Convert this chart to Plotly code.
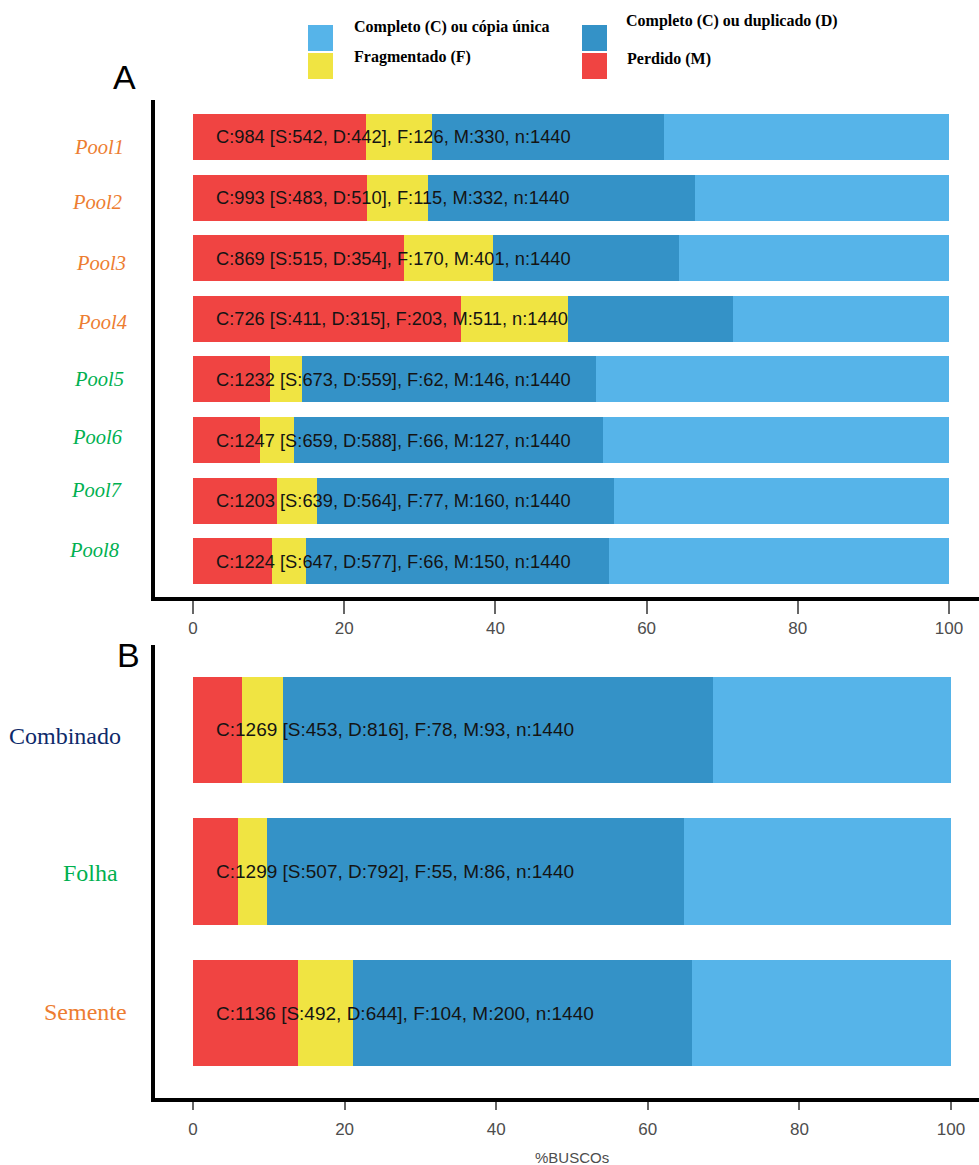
import plotly.graph_objects as go

W, H = 979, 1165

# BUSCO results (n = 1440 genes per assembly)
pools = ["Pool1", "Pool2", "Pool3", "Pool4", "Pool5", "Pool6", "Pool7", "Pool8"]
pool_single = [542, 483, 515, 411, 673, 659, 639, 647]
pool_duplicated = [442, 510, 354, 315, 559, 588, 564, 577]
pool_fragmented = [126, 115, 170, 203, 62, 66, 77, 66]
pool_missing = [330, 332, 401, 511, 146, 127, 160, 150]

tissues = ["Combinado", "Folha", "Semente"]
tissue_single = [453, 507, 492]
tissue_duplicated = [816, 792, 644]
tissue_fragmented = [78, 55, 104]
tissue_missing = [93, 86, 200]

n_total = 1440
x_ticks = [0, 20, 40, 60, 80, 100]

# category legend labels
lbl_single = "Completo (C) ou cópia única"
lbl_duplicated = "Completo (C) ou duplicado (D)"
lbl_fragmented = "Fragmentado (F)"
lbl_missing = "Perdido (M)"

C_SINGLE = "#56B4E9"
C_DUP = "#3492C7"
C_FRAG = "#F0E442"
C_MISS = "#F04442"
ORANGE = "#ED7D31"
GREEN = "#00B050"
NAVY = "#0E2A6A"


def px(x):
    return x / W


def py(y):
    return 1 - y / H


def pct(vals):
    return [v / n_total * 100 for v in vals]


def busco_text(s, d, f, m):
    return f"C:{s + d} [S:{s}, D:{d}], F:{f}, M:{m}, n:{n_total}"


fig = go.Figure()


def add_panel(cats, single, dup, frag, miss, xa, ya, width):
    for vals, color, name in [
        (miss, C_MISS, lbl_missing),
        (frag, C_FRAG, lbl_fragmented),
        (dup, C_DUP, lbl_duplicated),
        (single, C_SINGLE, lbl_single),
    ]:
        fig.add_trace(go.Bar(
            y=cats, x=pct(vals), orientation="h", name=name,
            marker=dict(color=color, line=dict(width=0)),
            width=width, xaxis=xa, yaxis=ya, showlegend=False,
        ))


add_panel(pools, pool_single, pool_duplicated, pool_fragmented, pool_missing, "x", "y", 0.76)
add_panel(tissues, tissue_single, tissue_duplicated, tissue_fragmented, tissue_missing, "x2", "y2", 0.75)


def x_range(px0, px100):
    scale = (px100 - px0) / 100
    return [(155 - px0) / scale, (W - px0) / scale]


axis_common = dict(
    showline=True, linewidth=3.5, linecolor="black", showgrid=False, zeroline=False,
)
tick_font = dict(family="Liberation Sans, Arial", size=17, color="#4D4D4D")

fig.update_layout(
    width=W, height=H,
    margin=dict(l=0, r=0, t=0, b=0),
    paper_bgcolor="white", plot_bgcolor="white",
    barmode="stack", bargap=0,
    xaxis=dict(
        domain=[px(155), 1], range=x_range(193, 949), anchor="y",
        tickvals=x_ticks, ticks="outside", ticklen=13, tickwidth=1.5, tickcolor="#666",
        tickfont=tick_font, **axis_common,
    ),
    yaxis=dict(
        domain=[py(597), py(100)], type="category", categoryarray=pools,
        range=[7.59, -0.61], showticklabels=False, ticks="", anchor="x",
        **axis_common,
    ),
    xaxis2=dict(
        domain=[px(155), 1], range=x_range(193, 951), anchor="y2",
        tickvals=x_ticks, ticks="outside", ticklen=8, tickwidth=1.5, tickcolor="#666",
        ticklabelstandoff=5, tickfont=tick_font, **axis_common,
    ),
    yaxis2=dict(
        domain=[py(1098), py(645)], type="category", categoryarray=tissues,
        range=[2.6, -0.6], showticklabels=False, ticks="", anchor="x2",
        **axis_common,
    ),
)

annotations = []

# value labels inside the bars
for i, cat in enumerate(pools):
    annotations.append(dict(
        x=2.8, y=cat, xref="x", yref="y", xanchor="left", yanchor="middle",
        text=busco_text(pool_single[i], pool_duplicated[i], pool_fragmented[i], pool_missing[i]),
        showarrow=False, font=dict(family="Liberation Sans, Arial", size=18.3, color="#141414"),
    ))
for i, cat in enumerate(tissues):
    annotations.append(dict(
        x=2.8, y=cat, xref="x2", yref="y2", xanchor="left", yanchor="middle",
        text=busco_text(tissue_single[i], tissue_duplicated[i], tissue_fragmented[i], tissue_missing[i]),
        showarrow=False, font=dict(family="Liberation Sans, Arial", size=19, color="#141414"),
    ))

# row labels
pool_colors = [ORANGE] * 4 + [GREEN] * 4
pool_label_pos = [(72, 145), (70, 200), (74, 261), (75, 320),
                  (72, 377), (70, 435), (69, 488), (67, 548)]
for cat, col, (lx, ly) in zip(pools, pool_colors, pool_label_pos):
    annotations.append(dict(
        x=px(lx), y=py(ly + 2), xref="paper", yref="paper", xanchor="left", yanchor="middle",
        text=f"<i>{cat}</i>", showarrow=False,
        font=dict(family="Liberation Serif, Times New Roman", size=20.5, color=col),
    ))

tissue_colors = [NAVY, GREEN, ORANGE]
tissue_label_pos = [(7, 734), (61, 871), (42, 1010)]
for cat, col, (lx, ly) in zip(tissues, tissue_colors, tissue_label_pos):
    annotations.append(dict(
        x=px(lx), y=py(ly + 2), xref="paper", yref="paper", xanchor="left", yanchor="middle",
        text=cat, showarrow=False,
        font=dict(family="Liberation Serif, Times New Roman", size=24, color=col),
    ))

# panel letters
for letter, lx, ly in [("A", 124, 77), ("B", 128, 655)]:
    annotations.append(dict(
        x=px(lx), y=py(ly), xref="paper", yref="paper", xanchor="center", yanchor="middle",
        text=letter, showarrow=False,
        font=dict(family="Liberation Sans, Arial", size=34, color="black"),
    ))

# x-axis title
annotations.append(dict(
    x=50, y=py(1157), xref="x2", yref="paper", xanchor="center", yanchor="middle",
    text="%BUSCOs", showarrow=False,
    font=dict(family="Liberation Sans, Arial", size=15, color="#4D4D4D"),
))

# legend (two columns)
legend_items = [
    (C_SINGLE, lbl_single, (308, 25), (352, 27)),
    (C_FRAG, lbl_fragmented, (308, 53), (352, 57)),
    (C_DUP, lbl_duplicated, (582, 25), (624, 21)),
    (C_MISS, lbl_missing, (582, 53), (625, 59)),
]
shapes = []
for color, label, (bx, by), (tx, ty) in legend_items:
    shapes.append(dict(
        type="rect", xref="paper", yref="paper",
        x0=px(bx), x1=px(bx + 25), y0=py(by + 26), y1=py(by),
        fillcolor=color, line=dict(width=0),
    ))
    annotations.append(dict(
        x=px(tx), y=py(ty), xref="paper", yref="paper", xanchor="left", yanchor="middle",
        text=f"<b>{label}</b>", showarrow=False,
        font=dict(family="Liberation Serif, Times New Roman", size=16, color="black"),
    ))

fig.update_layout(annotations=annotations, shapes=shapes)

fig.write_html("out.html")
